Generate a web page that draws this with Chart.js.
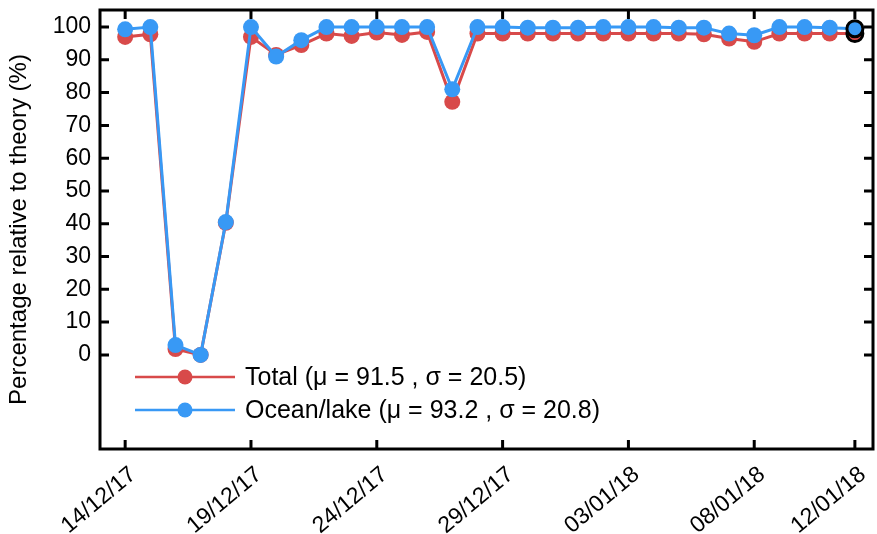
<!DOCTYPE html>
<html>
<head>
<meta charset="utf-8">
<script src="https://cdn.jsdelivr.net/npm/chart.js@4/dist/chart.umd.min.js"></script>
<style>
  html, body { margin: 0; padding: 0; background: #fff; }
  #wrap { width: 877px; height: 534px; }
</style>
</head>
<body>
<div id="wrap"><canvas id="c" width="877" height="534"></canvas></div>
<script>
const dates = ['14/12/17','15/12/17','16/12/17','17/12/17','18/12/17','19/12/17','20/12/17','21/12/17','22/12/17','23/12/17',
  '24/12/17','25/12/17','26/12/17','27/12/17','28/12/17','29/12/17','30/12/17','31/12/17','01/01/18','02/01/18',
  '03/01/18','04/01/18','05/01/18','06/01/18','07/01/18','08/01/18','09/01/18','10/01/18','11/01/18','12/01/18'];
const totalValues = [97, 97.8, 1.8, 0, 40.3, 97, 91.5, 94.5, 98, 97.3,
  98.3, 97.6, 98.5, 77.2, 98, 98, 98, 98, 98, 98,
  98, 98, 98, 97.8, 96.5, 95.5, 98, 98, 98, 98];
const oceanValues = [99.3, 100, 3, 0, 40.5, 100, 91, 96, 100, 100,
  100, 100, 100, 81, 100, 100, 99.8, 99.8, 99.8, 100,
  100, 100, 99.8, 99.8, 98, 97.5, 100, 100, 99.8, 99.5];
const xTickLabels = ['14/12/17','19/12/17','24/12/17','29/12/17','03/01/18','08/01/18','12/01/18'];
const yTickValues = [0,10,20,30,40,50,60,70,80,90,100];
const seriesNames = ['Total (\u03bc = 91.5 , \u03c3 = 20.5)', 'Ocean/lake (\u03bc = 93.2 , \u03c3 = 20.8)'];

const RED = '#D84A4A';
const BLUE = '#3899F5';
const FONT = '"Liberation Sans", Arial, Helvetica, sans-serif';
const FS = 23;

function toPoints(vals) { return vals.map((v, i) => ({ x: i, y: v })); }
function borderCols(base, n) { return Array.from({length: n}, (_, i) => i === n - 1 ? '#000' : base); }
function borderWs(n) { return Array.from({length: n}, (_, i) => i === n - 1 ? 3 : 0); }
const zeroPad = () => ({ left: 0, top: 0, right: 0, bottom: 0 });

const framePlugin = {
  id: 'frame',
  afterDraw(chart) {
    const ctx = chart.ctx, a = chart.chartArea;
    const xs = chart.scales.x, ys = chart.scales.y;
    ctx.save();
    ctx.strokeStyle = '#000';
    ctx.lineWidth = 3;
    ctx.strokeRect(a.left, a.top, a.right - a.left, a.bottom - a.top);
    const tl = 9;
    ctx.beginPath();
    xs.ticks.forEach(t => {
      const px = xs.getPixelForValue(t.value);
      ctx.moveTo(px, a.bottom); ctx.lineTo(px, a.bottom - tl);
      ctx.moveTo(px, a.top); ctx.lineTo(px, a.top + tl);
    });
    ys.ticks.forEach(t => {
      const py = ys.getPixelForValue(t.value);
      ctx.moveTo(a.left, py); ctx.lineTo(a.left + tl, py);
      ctx.moveTo(a.right, py); ctx.lineTo(a.right - tl, py);
    });
    ctx.stroke();
    ctx.restore();
  }
};

const legendPlugin = {
  id: 'customLegend',
  afterDatasetsDraw(chart) {
    const ctx = chart.ctx;
    ctx.save();
    const x0 = 135, x1 = 235, rows = [377, 410];
    chart.data.datasets.slice().sort((p, q) => p.legendIndex - q.legendIndex).forEach((ds, i) => {
      const y = rows[i];
      ctx.strokeStyle = ds.borderColor;
      ctx.lineWidth = 2.5;
      ctx.beginPath(); ctx.moveTo(x0, y); ctx.lineTo(x1, y); ctx.stroke();
      ctx.fillStyle = ds.backgroundColor;
      ctx.beginPath(); ctx.arc((x0 + x1) / 2, y, 7.5, 0, Math.PI * 2); ctx.fill();
      ctx.fillStyle = '#000';
      ctx.font = '25px ' + FONT;
      ctx.textBaseline = 'middle';
      ctx.textAlign = 'left';
      ctx.fillText(ds.label, 245, y + 1);
    });
    ctx.restore();
  }
};

new Chart(document.getElementById('c'), {
  type: 'line',
  data: {
    datasets: [
      { label: seriesNames[0], legendIndex: 0, data: toPoints(totalValues), borderColor: RED, backgroundColor: RED,
        borderWidth: 3, pointRadius: 8, pointHoverRadius: 8, pointBackgroundColor: RED,
        pointBorderColor: borderCols(RED, totalValues.length), pointBorderWidth: borderWs(totalValues.length), order: 2 },
      { label: seriesNames[1], legendIndex: 1, data: toPoints(oceanValues), borderColor: BLUE, backgroundColor: BLUE,
        borderWidth: 3, pointRadius: 8, pointHoverRadius: 8, pointBackgroundColor: BLUE,
        pointBorderColor: borderCols(BLUE, oceanValues.length), pointBorderWidth: borderWs(oceanValues.length), order: 1 }
    ]
  },
  options: {
    responsive: false,
    animation: false,
    devicePixelRatio: 1,
    layout: { autoPadding: false, padding: { top: 10, right: 4, left: 0, bottom: 0 } },
    plugins: { legend: { display: false }, tooltip: { enabled: false } },
    scales: {
      x: {
        type: 'linear',
        min: -1, max: dates.length - 1 + 0.72,
        grid: { display: false, drawTicks: false },
        border: { display: false },
        afterBuildTicks(s) { s.ticks = xTickLabels.map(l => ({ value: dates.indexOf(l) })); },
        afterFit(s) {
          s.height = 85; s.paddingLeft = 0; s.paddingRight = 0;
          if (s._margins) { s._margins.left = 0; s._margins.right = 0; }
          s.getPadding = zeroPad;
        },
        ticks: {
          autoSkip: false, minRotation: 40, maxRotation: 40, padding: 12, labelOffset: 8,
          color: '#000', font: { size: FS, family: FONT },
          callback: (v) => dates[v]
        }
      },
      y: {
        min: -28.7, max: 105.2,
        grid: { display: false, drawTicks: false },
        border: { display: false },
        afterBuildTicks(s) { s.ticks = yTickValues.map(v => ({ value: v })); },
        afterFit(s) {
          s.width = 100; s.paddingTop = 0; s.paddingBottom = 0;
          if (s._margins) { s._margins.top = 0; s._margins.bottom = 0; }
          s.getPadding = zeroPad;
        },
        ticks: { padding: 9, color: '#000', font: { size: FS, family: FONT } },
        title: { display: true, text: 'Percentage relative to theory (%)', color: '#000',
          font: { size: 24, family: FONT }, padding: { top: 5, bottom: 0 } }
      }
    }
  },
  plugins: [framePlugin, legendPlugin]
});
</script>
</body>
</html>
